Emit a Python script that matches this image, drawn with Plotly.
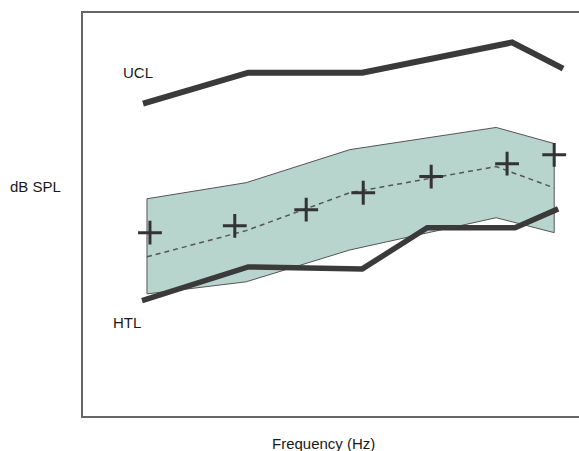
import plotly.graph_objects as go

# Generic position units (0-100) along frequency axis, dB-like units (0-100) vertical
ucl_x = [12.1, 33.3, 56.3, 86.5, 96.8]
ucl_y = [77.5, 85.2, 85.2, 92.7, 86.2]

htl_x = [11.9, 33.3, 56.3, 69.4, 87.1, 95.8]
htl_y = [28.6, 37.0, 36.5, 46.7, 46.7, 51.4]

band_x = [12.9, 32.9, 53.8, 83.3, 95.0]
band_upper = [53.9, 57.9, 66.1, 71.6, 67.6]
band_lower = [30.3, 33.3, 41.2, 49.2, 45.5]
band_mid = [39.5, 46.0, 55.4, 61.9, 56.6]

plus_x = [13.5, 30.6, 45.0, 56.5, 70.2, 85.5, 95.0]
plus_y = [45.5, 47.2, 51.2, 55.4, 59.4, 62.6, 64.8]

dark = "#3a3a3a"
font = dict(family="Liberation Sans, Arial, sans-serif", size=15, color="#1a1a1a")

fig = go.Figure()

poly_x = band_x + band_x[::-1] + [band_x[0]]
poly_y = band_upper + band_lower[::-1] + [band_upper[0]]
fig.add_trace(go.Scatter(x=poly_x, y=poly_y, mode="lines", fill="toself",
                         fillcolor="#b7d4cd", line=dict(color="#555", width=1),
                         hoverinfo="skip"))
fig.add_trace(go.Scatter(x=band_x, y=band_mid, mode="lines",
                         line=dict(color="#555", width=1.5, dash="5px,4px")))
fig.add_trace(go.Scatter(x=htl_x, y=htl_y, mode="lines",
                         line=dict(color=dark, width=5.5)))
fig.add_trace(go.Scatter(x=ucl_x, y=ucl_y, mode="lines",
                         line=dict(color=dark, width=6)))
fig.add_trace(go.Scatter(x=plus_x, y=plus_y, mode="markers",
                         marker=dict(symbol="cross-thin", size=17,
                                     line=dict(color="#333", width=3))))

fig.add_annotation(x=11.1, y=85.2, xref="x", yref="y", text="UCL",
                   showarrow=False, font=font)
fig.add_annotation(x=8.9, y=23.1, xref="x", yref="y", text="HTL",
                   showarrow=False, font=font)
fig.add_annotation(x=-0.0948, y=0.569, xref="paper", yref="paper", text="dB SPL",
                   showarrow=False, font=font, xanchor="center", yanchor="middle")
fig.add_annotation(x=0.484, y=-0.067, xref="paper", yref="paper", text="Frequency (Hz)",
                   showarrow=False, font=font, xanchor="center", yanchor="middle")

fig.update_layout(
    width=579, height=451,
    margin=dict(l=83, r=0, t=13, b=35),
    paper_bgcolor="white", plot_bgcolor="white",
    showlegend=False,
    xaxis=dict(range=[0, 100], showgrid=False, zeroline=False, showticklabels=False,
               ticks="", showline=True, linecolor="#666", linewidth=1.5, mirror=True),
    yaxis=dict(range=[0, 100], showgrid=False, zeroline=False, showticklabels=False,
               ticks="", showline=True, linecolor="#666", linewidth=1.5, mirror=False),
)

fig.write_html("out.html")
